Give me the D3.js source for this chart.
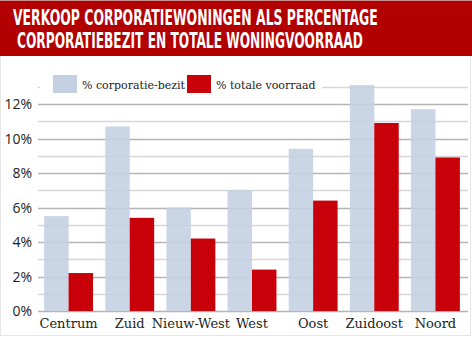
<!DOCTYPE html>
<html><head><meta charset="utf-8">
<script src="https://cdn.jsdelivr.net/npm/d3@7"></script>
<style>html,body{margin:0;padding:0;background:#fff;}svg{display:block;}</style>
</head><body>
<script>
const categories = ["Centrum","Zuid","Nieuw-West","West","Oost","Zuidoost","Noord"];
const corporatieBezit = [5.5,10.7,6.0,7.0,9.4,13.1,11.7];
const totaleVoorraad = [2.2,5.4,4.2,2.4,6.4,10.9,8.9];
const seriesNames = ["% corporatie-bezit","% totale voorraad"];
const yTicks = [0,2,4,6,8,10,12];
const gridValues = [0,1,2,3,4,5,6,7,8,9,10,11,12,13];
const titleLines = ["VERKOOP CORPORATIEWONINGEN ALS PERCENTAGE","CORPORATIEBEZIT EN TOTALE WONINGVOORRAAD"];

const W=472,H=337;
const svg=d3.select("body").append("svg").attr("width",W).attr("height",H);

// frame
svg.append("rect").attr("x",0.5).attr("y",0.5).attr("width",470).attr("height",335)
  .attr("fill","#fff").attr("stroke","#e6e6e6");
// header
svg.append("rect").attr("x",0).attr("y",0).attr("width",W).attr("height",1).attr("fill","#c98a8a");
svg.append("rect").attr("x",0).attr("y",1).attr("width",W).attr("height",55).attr("fill","#b20000");
const titlePos=[[13,25,365],[17,48,346]];
titleLines.forEach((t,i)=>{
  const tg=svg.append("g");
  const tx=tg.append("text").attr("x",0).attr("y",0).text(t)
    .attr("fill","#fff").attr("font-family","'Liberation Sans Narrow','DejaVu Sans Condensed',sans-serif")
    .attr("font-weight","bold").attr("font-size",21);
  const len=tx.node().getComputedTextLength();
  tg.attr("transform",`translate(${titlePos[i][0]},${titlePos[i][1]}) scale(${titlePos[i][2]/len},1)`);
});

const x=d3.scaleBand().domain(categories).range([38,466]).paddingInner(0.2).paddingOuter(0.1);
const xs=d3.scaleBand().domain(seriesNames).range([0,x.bandwidth()]);
const y=d3.scaleLinear().domain([0,12]).range([311,104]);

// grid
svg.append("g").selectAll("line").data(gridValues).join("line")
  .attr("x1",38).attr("x2",468)
  .attr("y1",d=>Math.round(y(d))+0.5).attr("y2",d=>Math.round(y(d))+0.5)
  .attr("stroke",d=>d%2===0?"#b4b4b4":"#d6d6d6").attr("stroke-width",1.5);

// legend background
svg.append("rect").attr("x",40).attr("y",68).attr("width",282).attr("height",30).attr("fill","#fff");

// bars
const data=categories.map((c,i)=>({c,vals:[corporatieBezit[i],totaleVoorraad[i]]}));
const colors=["#c4d1e3","#c8000a"];
const opac=[0.9,1];
const g=svg.append("g").selectAll("g").data(data).join("g").attr("transform",d=>`translate(${x(d.c)},0)`);
g.selectAll("rect").data(d=>d.vals.map((v,j)=>({v,j}))).join("rect")
  .attr("x",d=>xs(seriesNames[d.j])).attr("width",xs.bandwidth())
  .attr("y",d=>y(d.v)).attr("height",d=>y(0)-y(d.v))
  .attr("fill",d=>colors[d.j]).attr("fill-opacity",d=>opac[d.j]);

// y labels
svg.append("g").selectAll("text").data(yTicks).join("text")
  .attr("x",32).attr("y",d=>y(d)+5).attr("text-anchor","end")
  .attr("font-family","'Open Sans',sans-serif").attr("font-size",14).attr("fill","#222")
  .text(d=>d+"%");

// x labels
svg.append("g").selectAll("text").data(categories).join("text")
  .attr("x",d=>x(d)+x.bandwidth()/2).attr("y",328).attr("text-anchor","middle")
  .attr("font-family","'DejaVu Serif',serif").attr("font-size",13).attr("fill","#222")
  .text(d=>d);

// legend
const legX=[53,187];
seriesNames.forEach((s,i)=>{
  svg.append("rect").attr("x",legX[i]).attr("y",75).attr("width",24).attr("height",18).attr("fill",colors[i]);
  svg.append("text").attr("x",legX[i]+29).attr("y",89).text(s)
    .attr("font-family","'DejaVu Serif',serif").attr("font-size",11).attr("fill","#222");
});
</script>
</body></html>
